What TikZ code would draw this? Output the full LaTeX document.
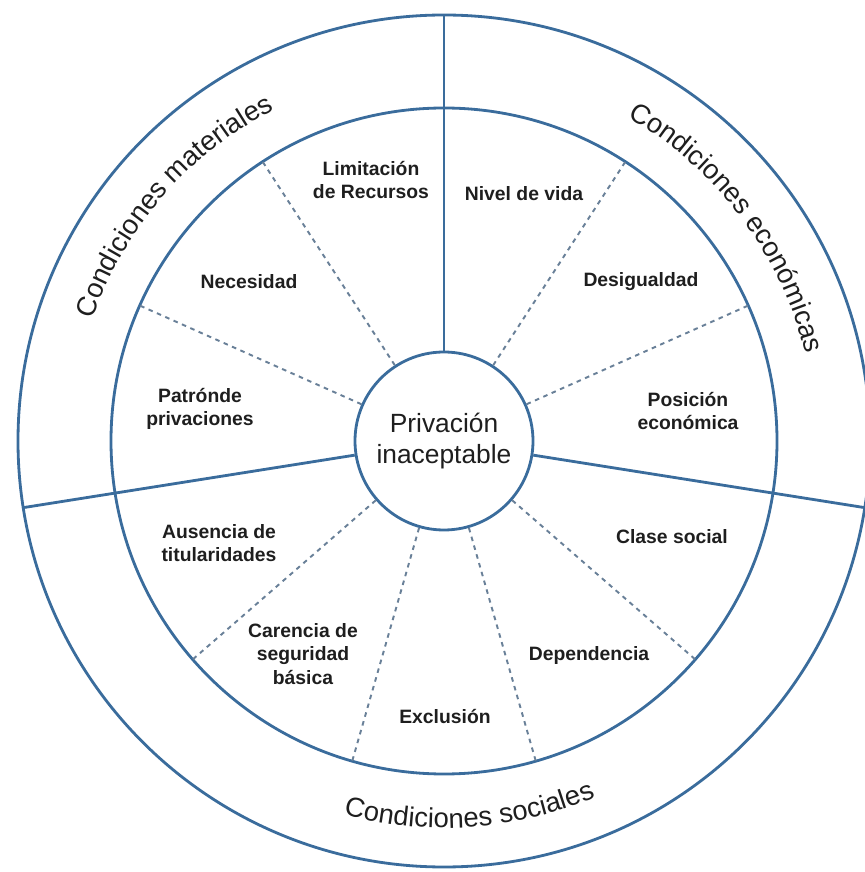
\documentclass[tikz,border=0pt]{standalone}
\usepackage{fontspec}
\setmainfont{Liberation Sans}
\usetikzlibrary{decorations.text}
\definecolor{ringblue}{RGB}{58,108,156}
\definecolor{dashblue}{RGB}{105,128,152}
\definecolor{ink}{RGB}{30,30,30}
\newcommand\outerfont{\fontsize{15.6}{18}\selectfont}
\begin{document}
\begin{tikzpicture}[
    ring/.style={draw=ringblue, line width=1.6pt},
    sep/.style={draw=dashblue, line width=1.1pt, dash pattern=on 2.6pt off 2.6pt},
    lbl/.style={align=center, text=ink, font=\bfseries\fontsize{11}{13.5}\selectfont},
    arctext/.style={decorate, decoration={text along path, text align=center,
        text color=ink, text={|\outerfont|#1}}}
]
    \path[use as bounding box] (-8.88,-8.62) rectangle (8.42,8.82);
    \clip (-8.88,-8.62) rectangle (8.42,8.82);

    % rings
    \draw[ring] (0,0) circle (8.52);
    \draw[ring] (0,0) circle (6.66);

    \node[circle, ring, minimum size=3.56cm, inner sep=0pt, align=center, text=ink,
        font=\fontsize{15}{18}\selectfont] (c0) at (0,0) {Privación\\inaceptable};

    % solid separators
    \coordinate (o1) at (90:8.52);
    \coordinate (o2) at (189:8.52);
    \coordinate (o3) at (351:8.52);
    \draw[ring] (c0.90) -- (o1);
    \draw[ring] (c0.189) -- (o2);
    \draw[ring] (c0.351) -- (o3);

    % dashed separators
    \foreach \a [count=\i] in {57,24,319,286,254,221,156,123} {
        \coordinate (d\i) at (\a:6.66);
        \draw[sep] (c0.\a) -- (d\i);
    }

    % labels
    \node[lbl] (l1) at (-1.46,5.22) {Limitación\\de Recursos};
    \node[lbl] (l2) at (1.60,4.94) {Nivel de vida};
    \node[lbl] (l3) at (-3.90,3.18) {Necesidad};
    \node[lbl] (l4) at (3.94,3.18) {Desigualdad};
    \node[lbl] (l5) at (-4.88,0.64) {Patrónde\\privaciones};
    \node[lbl] (l6) at (4.88,0.60) {Posición\\económica};
    \node[lbl] (l7) at (-4.50,-2.04) {Ausencia de\\titularidades};
    \node[lbl] (l8) at (4.56,-1.92) {Clase social};
    \node[lbl] (l9) at (-2.82,-4.26) {Carencia de\\seguridad\\básica};
    \node[lbl] (l10) at (2.90,-4.28) {Dependencia};
    \node[lbl] (l11) at (0.02,-5.52) {Exclusión};

    % outer ring texts
    \path[arctext={Condiciones materiales}] (169:7.44) arc[start angle=169, end angle=109, radius=7.44];
    \path[arctext={Condiciones económicas}] (67:7.44) arc[start angle=67, end angle=7, radius=7.44];
    \path[arctext={Condiciones sociales}] (244:7.74) arc[start angle=244, end angle=304, radius=7.74];
\end{tikzpicture}
\end{document}
